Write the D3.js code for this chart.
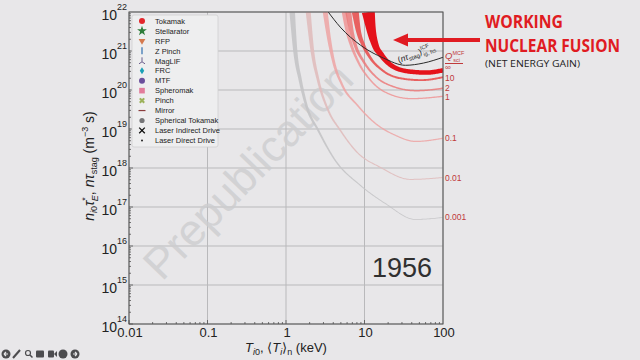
<!DOCTYPE html>
<html><head><meta charset="utf-8">
<script src="https://cdn.jsdelivr.net/npm/d3@7"></script>
<style>body{margin:0;background:#e8e7e9;} svg{display:block;font-family:"Liberation Sans",Arial,sans-serif;}</style>
</head><body><svg id="c" width="640" height="360"></svg>
<script>
// ---- data ----
const xTicks = [0.01, 0.1, 1, 10, 100];
const xTickLabels = ["0.01", "0.1", "1", "10", "100"];
const yExps = [14, 15, 16, 17, 18, 19, 20, 21, 22];
const qLabels = ["∞", "10", "2", "1", "0.1", "0.01", "0.001"];
// Q_sci curves: [T keV, n tau (m^-3 s)]
const curveQinf = [[11.2,1e22],[12.2,3.4e21],[13.7,1.42e21],[16.4,7.9e20],[22.6,4.1e20],[36.2,3.0e20],[61.4,2.8e20],[100,3.2e20]];
const curveQ10 = [[7.63,1e22],[8.34,3.4e21],[9.66,1.42e21],[11.9,6.6e20],[16.9,3.2e20],[28.6,2.0e20],[53.0,1.79e20],[100,2.13e20]];
const curveQ2 = [[6.22,1e22],[6.79,3.4e21],[7.63,1.42e21],[9.66,5.5e20],[13.7,2.26e20],[22.6,1.25e20],[45.8,9.6e19],[100,1.11e20]];
const curveQ1 = [[5.52,1e22],[6.03,3.4e21],[6.79,1.42e21],[8.34,5.2e20],[11.9,1.79e20],[19.5,8.3e19],[39.5,6.0e19],[100,6.9e19]];
const curveQ01 = [[3.16,1e22],[3.56,1.9e21],[4.00,5.8e20],[5.21,1.33e20],[8.09,4.1e19],[13.7,1.4e19],[24.7,6.9e18],[44.5,4.8e18],[100,5.8e18]];
const curveQ001 = [[1.92,1e22],[2.16,1.05e21],[2.57,1.79e20],[3.45,3.0e19],[4.91,9.3e18],[8.09,2.5e18],[15.9,1.04e18],[38.4,5.1e17],[100,5.7e17]];
const curveQ0001 = [[1.20,1e22],[1.31,1.05e21],[1.52,1.79e20],[1.81,4.1e19],[2.57,9.3e18],[4.24,1.57e18],[8.84,3.6e17],[18.4,1.23e17],[44.5,4.8e16],[100,5.4e16]];
const icfCurve = [[3.45,1e22],[4.91,4.1e21],[8.84,1.42e21],[17.4,6.6e20],[33.2,4.3e20],[56.2,4.9e20],[100,6.9e20]];
const legendNames = ["Tokamak","Stellarator","RFP","Z Pinch","MagLIF","FRC","MTF","Spheromak","Pinch","Mirror","Spherical Tokamak","Laser Indirect Drive","Laser Direct Drive"];
const yearLabel = "1956";

// ---- layout ----
const svg = d3.select("#c");
svg.append("rect").attr("width",640).attr("height",360).attr("fill","#e8e7e9");
const L = 129, R = 443, T = 12, B = 324;
const x = d3.scaleLog().domain([0.01,100]).range([L,R]);
const y = d3.scaleLog().domain([1e14,1e22]).range([B,T]);

// grid
const grid = svg.append("g").attr("stroke","#b9b9bb").attr("stroke-width",1);
xTicks.forEach(v=>grid.append("line").attr("x1",x(v)).attr("x2",x(v)).attr("y1",T).attr("y2",B));
yExps.forEach(e=>grid.append("line").attr("x1",L).attr("x2",R).attr("y1",y(Math.pow(10,e))).attr("y2",y(Math.pow(10,e))));

// watermark
svg.append("text").attr("transform","translate(162,282) rotate(-46)")
  .attr("font-size",44).attr("fill","#cdcdcf").attr("opacity",0.8).text("Prepublication");

// clip
svg.append("clipPath").attr("id","clip").append("rect").attr("x",L).attr("y",T).attr("width",R-L).attr("height",B-T);
const g = svg.append("g").attr("clip-path","url(#clip)");

function drawBand(data, wTop, wBot, color, op){
  const pts = data.map(d=>[x(d[0]), y(d[1])]);
  const tmp = g.append("path").attr("d", d3.line().curve(d3.curveMonotoneX)(pts)).attr("fill","none");
  const node = tmp.node(), len = node.getTotalLength();
  const yMax = d3.max(pts, p=>p[1]);
  const left=[], right=[];
  const N = Math.ceil(len);
  for(let i=0;i<=N;i++){
    const s = len*i/N;
    const p = node.getPointAtLength(s);
    const a = node.getPointAtLength(Math.max(0,s-1.5)), b = node.getPointAtLength(Math.min(len,s+1.5));
    let dx=b.x-a.x, dy=b.y-a.y; const l=Math.hypot(dx,dy)||1; dx/=l; dy/=l;
    const t = Math.max(0, Math.min(1,(p.y - T)/(yMax - T)));
    const w = wBot + (wTop-wBot)*Math.pow(1-t,1.6);
    left.push([p.x - dy*w/2, p.y + dx*w/2]);
    right.push([p.x + dy*w/2, p.y - dx*w/2]);
  }
  tmp.remove();
  g.append("path").attr("d", d3.line()(left.concat(right.reverse()))+"Z").attr("fill",color).attr("opacity",op);
}
const bands = [
  [curveQ0001, 5.5, 0.8, "#c4c4c6", 0.9],
  [curveQ001, 5, 1.0, "#e0bdbd", 0.9],
  [curveQ01, 5, 1.2, "#eda3a3", 0.85],
  [curveQ1, 5, 1.3, "#ef9090", 0.8],
  [curveQ2, 6, 1.5, "#ec7474", 0.8],
  [curveQ10, 7, 1.9, "#e84848", 0.85],
  [curveQinf, 13, 4.5, "#e5121b", 1]
];
bands.forEach(b=>drawBand(...b));

// ICF curve
g.append("path").attr("d", d3.line().curve(d3.curveMonotoneX)(icfCurve.map(d=>[x(d[0]),y(d[1])])))
  .attr("fill","none").attr("stroke","#2a2a2a").attr("stroke-width",1);

// ICF label
const il = svg.append("text").attr("transform","translate(399,63) rotate(-21)").attr("font-size",8.5).attr("fill","#222");
il.append("tspan").text("(");
il.append("tspan").attr("font-style","italic").text("nτ");
il.append("tspan").attr("font-size",6).attr("dy",2).text("stag");
il.append("tspan").attr("dy",-2).text(")");
il.append("tspan").attr("font-size",5.5).attr("dy",-4).text("ICF");
il.append("tspan").attr("font-size",5.5).attr("dx",-8).attr("dy",7).text("ig, hs");

// axes frame
svg.append("rect").attr("x",L).attr("y",T).attr("width",R-L).attr("height",B-T).attr("fill","none").attr("stroke","#505050").attr("stroke-width",1);

// ticks
const tk = svg.append("g").attr("stroke","#505050").attr("stroke-width",0.8);
for(let e=-2;e<2;e++){ for(let m=1;m<10;m++){ const v=m*Math.pow(10,e); const len=m===1?4:2;
  tk.append("line").attr("x1",x(v)).attr("x2",x(v)).attr("y1",B).attr("y2",B-len);}}
for(let e=14;e<22;e++){ for(let m=1;m<10;m++){ const v=m*Math.pow(10,e); const len=m===1?4:2;
  tk.append("line").attr("x1",L).attr("x2",L+len).attr("y1",y(v)).attr("y2",y(v));}}

// tick labels
xTicks.forEach((v,i)=>svg.append("text").attr("x",x(v)+1).attr("y",337).attr("text-anchor","middle")
  .attr("font-size",13).attr("fill","#222").text(xTickLabels[i]));
yExps.forEach(e=>{
  const yy = y(Math.pow(10,e));
  svg.append("text").attr("x",117).attr("y",yy+8).attr("text-anchor","end").attr("font-size",14).attr("fill","#222").text("10");
  svg.append("text").attr("x",117).attr("y",yy-2).attr("font-size",9).attr("fill","#222").text(e);
});

// axis labels
const xl = svg.append("text").attr("x",286).attr("y",352).attr("text-anchor","middle").attr("font-size",13).attr("fill","#222");
xl.append("tspan").attr("font-style","italic").text("T");
xl.append("tspan").attr("font-size",9).attr("dy",3).attr("font-style","italic").text("i");
xl.append("tspan").attr("font-size",9).text("0");
xl.append("tspan").attr("dy",-3).text(", ⟨");
xl.append("tspan").attr("font-style","italic").text("T");
xl.append("tspan").attr("font-size",9).attr("dy",3).attr("font-style","italic").text("i");
xl.append("tspan").attr("dy",-3).text("⟩");
xl.append("tspan").attr("font-size",9).attr("dy",3).text("n");
xl.append("tspan").attr("dy",-3).text(" (keV)");

const yl = svg.append("text").attr("transform","translate(94,166) rotate(-90)").attr("text-anchor","middle").attr("font-size",14).attr("fill","#222");
yl.append("tspan").attr("font-style","italic").text("n");
yl.append("tspan").attr("font-size",9).attr("dy",3).attr("font-style","italic").text("i");
yl.append("tspan").attr("font-size",9).text("0");
yl.append("tspan").attr("font-style","italic").attr("dy",-3).text("τ");
yl.append("tspan").attr("font-size",9).attr("dy",-6).text("*");
yl.append("tspan").attr("font-size",9).attr("font-style","italic").attr("dx",-4).attr("dy",10).text("E");
yl.append("tspan").attr("dy",-4).text(", ");
yl.append("tspan").attr("font-style","italic").text("nτ");
yl.append("tspan").attr("font-size",9).attr("dy",3).text("stag");
yl.append("tspan").attr("dy",-3).text(" (m");
yl.append("tspan").attr("font-size",9).attr("dy",-6).text("−3");
yl.append("tspan").attr("dy",6).text(" s)");

// Q labels
const qc = "#c0393b";
const qt = svg.append("text").attr("x",445).attr("y",59).attr("font-size",9.5).attr("fill",qc);
qt.append("tspan").attr("font-style","italic").text("Q");
qt.append("tspan").attr("font-size",5.5).attr("dy",-4).text("MCF");
qt.append("tspan").attr("font-size",5.5).attr("dx",-11).attr("dy",7).text("sci");
svg.append("line").attr("x1",445).attr("x2",463).attr("y1",63.5).attr("y2",63.5).attr("stroke",qc).attr("stroke-width",1);
const ends = [curveQinf,curveQ10,curveQ2,curveQ1,curveQ01,curveQ001,curveQ0001];
const labelNudge = [0, 3.5, 3, 4, 3, 3, 3];
ends.forEach((c,i)=>{
  const last = c[c.length-1];
  svg.append("text").attr("x",445).attr("y",y(last[1])+labelNudge[i]).attr("font-size",i===0?8:8.5).attr("fill",qc).text(qLabels[i]);
});

// year
svg.append("text").attr("x",372).attr("y",277).attr("font-size",27).attr("fill","#303030").text(yearLabel);

// legend
const lg = svg.append("g");
lg.append("rect").attr("x",132).attr("y",15).attr("width",86).attr("height",132).attr("rx",2)
  .attr("fill","#eeeeef").attr("stroke","#cfcfd1").attr("stroke-width",0.8);
legendNames.forEach((n,i)=>{
  const cy = 21 + i*9.95, cx = 142;
  lg.append("text").attr("x",155).attr("y",cy+2.7).attr("font-size",7.5).attr("fill","#222").text(n);
  const m = lg.append("g").attr("transform",`translate(${cx},${cy})`);
  switch(i){
    case 0: m.append("circle").attr("r",3).attr("fill","#e3262b"); break;
    case 1: m.append("path").attr("d",d3.symbol(d3.symbolStar,30)()).attr("fill","#2e7d3b"); break;
    case 2: m.append("path").attr("d",d3.symbol(d3.symbolTriangle,20)()).attr("transform","rotate(180)").attr("fill","#d57a4f"); break;
    case 3: m.append("line").attr("y1",-3.5).attr("y2",3.5).attr("stroke","#4a80b8").attr("stroke-width",1.4); break;
    case 4: m.append("path").attr("d","M0,-3.5V1M0,1L-3,3M0,1L3,3").attr("stroke","#6b5d8c").attr("stroke-width",1).attr("fill","none"); break;
    case 5: m.append("path").attr("d","M0,-3.5L2.2,0L0,3.5L-2.2,0Z").attr("fill","#1ba0b6"); break;
    case 6: m.append("path").attr("d",d3.symbol(d3.symbolCircle,28)()).attr("fill","#6b4f9c"); break;
    case 7: m.append("rect").attr("x",-2.8).attr("y",-2.8).attr("width",5.6).attr("height",5.6).attr("fill","#e27c9b"); break;
    case 8: m.append("path").attr("d",d3.symbol(d3.symbolCross,22)()).attr("transform","rotate(45)").attr("fill","#9cb25a"); break;
    case 9: m.append("line").attr("x1",-3.5).attr("x2",3.5).attr("stroke","#8a3c3c").attr("stroke-width",1.2); break;
    case 10: m.append("circle").attr("r",2.6).attr("fill","#757577"); break;
    case 11: m.append("path").attr("d","M-2.8,-2.8L2.8,2.8M-2.8,2.8L2.8,-2.8").attr("stroke","#111").attr("stroke-width",1.3); break;
    case 12: m.append("circle").attr("r",1).attr("fill","#222"); break;
  }
});

// annotation
const red = "#e01b22";
svg.append("line").attr("x1",480).attr("x2",404).attr("y1",40).attr("y2",40).attr("stroke",red).attr("stroke-width",4);
svg.append("path").attr("d","M393,40L408,33.5L408,46.5Z").attr("fill",red);
svg.append("text").attr("x",485).attr("y",28).attr("font-family","'Open Sans',sans-serif").attr("font-weight","bold")
  .attr("font-size",17).attr("fill",red).attr("textLength",78).attr("lengthAdjust","spacingAndGlyphs").text("WORKING");
svg.append("text").attr("x",485).attr("y",52).attr("font-family","'Open Sans',sans-serif").attr("font-weight","bold")
  .attr("font-size",17).attr("fill",red).attr("textLength",135).attr("lengthAdjust","spacingAndGlyphs").text("NUCLEAR FUSION");
svg.append("text").attr("x",485).attr("y",67).attr("font-family","'Open Sans',sans-serif")
  .attr("font-size",9.5).attr("fill","#1e1e1e").attr("textLength",95).attr("lengthAdjust","spacingAndGlyphs").text("(NET ENERGY GAIN)");

// player toolbar
const tb = svg.append("g").attr("fill","#4d4d4f").attr("stroke","none");
const tbY = 354;
tb.append("circle").attr("cx",6).attr("cy",tbY).attr("r",4.5);
tb.append("path").attr("d",`M8,${tbY}H4M4,${tbY}l2,-2M4,${tbY}l2,2`).attr("stroke","#e8e7e9").attr("stroke-width",1.2);
tb.append("path").attr("d",`M13,${tbY+4}L20,${tbY-4}`).attr("stroke","#4d4d4f").attr("stroke-width",2);
tb.append("circle").attr("cx",28).attr("cy",tbY-1).attr("r",2.5).attr("fill","none").attr("stroke","#4d4d4f").attr("stroke-width",1.2);
tb.append("path").attr("d",`M30,${tbY+1}L32.5,${tbY+3.5}`).attr("stroke","#4d4d4f").attr("stroke-width",1.5);
tb.append("rect").attr("x",36).attr("y",tbY-3.5).attr("width",8).attr("height",7).attr("rx",1);
tb.append("rect").attr("x",48).attr("y",tbY-3.5).attr("width",6).attr("height",7).attr("rx",1);
tb.append("path").attr("d",`M54,${tbY}l3,-3v6z`);
tb.append("circle").attr("cx",63).attr("cy",tbY).attr("r",4.5);
tb.append("circle").attr("cx",75).attr("cy",tbY).attr("r",4.5);
tb.append("path").attr("d",`M73,${tbY}H77M77,${tbY}l-2,-2M77,${tbY}l-2,2`).attr("stroke","#e8e7e9").attr("stroke-width",1.2);
</script></body></html>
